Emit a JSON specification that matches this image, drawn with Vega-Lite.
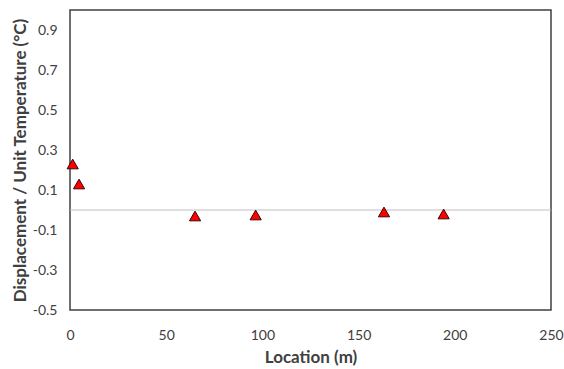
{
  "$schema": "https://vega.github.io/schema/vega-lite/v6.json",
  "width": 481,
  "height": 300,
  "autosize": {"type": "none"},
  "padding": {"left": 70, "top": 10, "right": 13, "bottom": 59},
  "background": "white",
  "config": {
    "view": {"stroke": "#404040", "strokeWidth": 1.5},
    "font": "Lato",
    "axis": {
      "grid": false,
      "domain": false,
      "ticks": false,
      "labelFont": "Lato",
      "labelFontSize": 14,
      "labelColor": "#404040",
      "titleFont": "Lato",
      "titleFontSize": 17,
      "titleFontWeight": "bold",
      "titleColor": "#404040"
    }
  },
  "data": {
    "values": [
      {"location": 1.4, "value": 0.23},
      {"location": 4.7, "value": 0.13},
      {"location": 65, "value": -0.03},
      {"location": 96.5, "value": -0.025},
      {"location": 163.2, "value": -0.01},
      {"location": 194.2, "value": -0.02}
    ]
  },
  "layer": [
    {
      "data": {"values": [{"y": 0}]},
      "mark": {"type": "rule", "color": "#bfbfbf", "strokeWidth": 1},
      "encoding": {
        "y": {"field": "y", "type": "quantitative", "scale": {"domain": [-0.5, 1.0]}}
      }
    },
    {
      "mark": {"type": "point", "shape": "triangle-up", "filled": true, "fill": "#ff0000", "stroke": "#3b0000", "strokeWidth": 1, "size": 125, "opacity": 1},
      "encoding": {
        "x": {
          "field": "location",
          "type": "quantitative",
          "title": "Location (m)",
          "scale": {"domain": [0, 250], "nice": false, "zero": false},
          "axis": {"values": [0, 50, 100, 150, 200, 250], "labelPadding": 18, "titlePadding": 7, "labelFlush": false}
        },
        "y": {
          "field": "value",
          "type": "quantitative",
          "title": "Displacement / Unit Temperature (°C)",
          "scale": {"domain": [-0.5, 1.0], "nice": false, "zero": false},
          "axis": {"values": [-0.5, -0.3, -0.1, 0.1, 0.3, 0.5, 0.7, 0.9], "labelExpr": "replace(format(datum.value, '.1f'), '\u2212', '-')", "labelPadding": 13, "titlePadding": 3, "labelFlush": false}
        }
      }
    }
  ]
}
